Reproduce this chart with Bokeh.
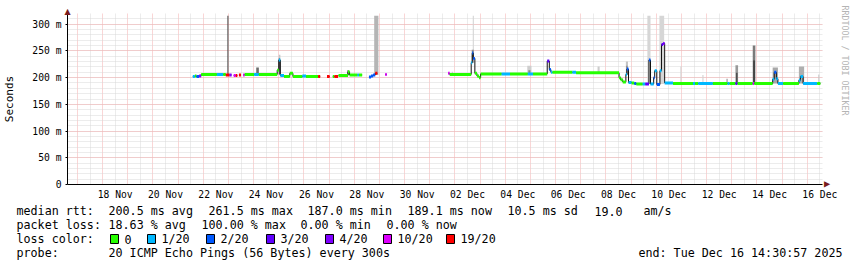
import numpy as np
import pandas as pd
from bokeh.plotting import figure
from bokeh.layouts import column
from bokeh.models import (Range1d, FixedTicker, DatetimeTickFormatter, Title,
                          ColumnDataSource)
from bokeh.core.properties import value
from bokeh.embed import file_html
from bokeh.resources import INLINE

# ---------------------------------------------------------------- data
graph_end = "2025-12-16 14:30:57"
graph_days = 30

# median rtt as runs: start of run, median (ms, None = no data), pings lost of 20
median_start = [
    "2025-11-21 14:00", "2025-11-21 16:00", "2025-11-21 17:30", "2025-11-21 20:00",
    "2025-11-21 22:00", "2025-11-22 13:00", "2025-11-22 19:00", "2025-11-22 21:30",
    "2025-11-23 01:00", "2025-11-23 03:00", "2025-11-23 05:00", "2025-11-23 07:00",
    "2025-11-23 08:30", "2025-11-23 10:00", "2025-11-23 12:00", "2025-11-23 14:00",
    "2025-11-23 15:30", "2025-11-24 00:30", "2025-11-24 05:00", "2025-11-24 22:30",
    "2025-11-25 00:00", "2025-11-25 01:30", "2025-11-25 05:00", "2025-11-25 10:30",
    "2025-11-25 13:30", "2025-11-25 22:30", "2025-11-26 02:00", "2025-11-26 13:30",
    "2025-11-26 15:30", "2025-11-26 22:00", "2025-11-27 00:30", "2025-11-27 03:30",
    "2025-11-27 05:00", "2025-11-27 08:30", "2025-11-27 09:00", "2025-11-27 18:00",
    "2025-11-27 19:30", "2025-11-28 03:00", "2025-11-28 04:30", "2025-11-28 07:30",
    "2025-11-28 14:00", "2025-11-28 16:00", "2025-11-28 18:00", "2025-11-28 20:00",
    "2025-11-28 22:00", "2025-11-29 05:30", "2025-11-29 07:00", "2025-12-01 17:30",
    "2025-12-01 19:00", "2025-12-02 15:30", "2025-12-02 16:30", "2025-12-02 17:30",
    "2025-12-02 19:00", "2025-12-02 21:00", "2025-12-02 23:00", "2025-12-03 00:30",
    "2025-12-03 20:30", "2025-12-04 04:30", "2025-12-04 21:30", "2025-12-05 02:30",
    "2025-12-05 16:00", "2025-12-05 18:00", "2025-12-05 19:30", "2025-12-05 21:00",
    "2025-12-06 16:00", "2025-12-06 19:30", "2025-12-08 12:30", "2025-12-08 14:00",
    "2025-12-08 16:00", "2025-12-08 19:00", "2025-12-08 20:00", "2025-12-08 21:30",
    "2025-12-09 00:30", "2025-12-09 03:00", "2025-12-09 05:00", "2025-12-09 11:00",
    "2025-12-09 13:30", "2025-12-09 17:00", "2025-12-09 18:30", "2025-12-09 21:30",
    "2025-12-09 22:30", "2025-12-10 00:30", "2025-12-10 03:30", "2025-12-10 05:00",
    "2025-12-10 06:30", "2025-12-10 08:00", "2025-12-10 16:00", "2025-12-11 11:00",
    "2025-12-11 13:00", "2025-12-11 16:00", "2025-12-12 06:00", "2025-12-12 20:00",
    "2025-12-12 22:00", "2025-12-13 03:30", "2025-12-13 05:30", "2025-12-13 20:00",
    "2025-12-13 21:30", "2025-12-14 15:00", "2025-12-14 16:30", "2025-12-14 18:30",
    "2025-12-14 20:00", "2025-12-15 01:00", "2025-12-15 16:00", "2025-12-15 17:30",
    "2025-12-15 20:00", "2025-12-16 09:30",
]
median_ms = [
    202, 203, 202, 203, 206, 206, 206, 205,
    205, None, 204, 204, None, 205, None, 205,
    206, 206, 206, 214, 233, 204, 202, 208,
    202, 203, 202, 202, None, 202, None, 202,
    202, None, 204, 211, 205, 205, 205, None,
    201, 203, 205, 208, None, 206, None, 208,
    206, 228, 246, 236, 208, 203, 200, 207,
    207, 207, 207, 207, 231, 215, 210, 210,
    210, 209, 200, 196, 192, 206, 216, 191,
    190, 189, 188, 188, 188, 233, 188, 200,
    213, 187, 213, 262, 264, 190, 189, 189,
    189, 189, 189, 189, 189, 189, 189, 189,
    189, 197, 210, 198, 189, 189, 195, 202,
    189, 189,
]
median_loss = [
    1, 0, 2, 4, 0, 1, 0, 19,
    4, 0, 10, 19, 0, 19, 0, 10,
    0, 1, 0, 0, 1, 1, 0, 0,
    0, 1, 0, 19, 0, 19, 0, 0,
    19, 0, 0, 0, 0, 1, 0, 0,
    2, 2, 2, 19, 0, 10, 0, 10,
    0, 1, 2, 2, 0, 0, 0, 0,
    1, 0, 1, 0, 3, 2, 1, 0,
    1, 0, 0, 0, 0, 1, 2, 1,
    0, 2, 0, 1, 3, 2, 1, 2,
    1, 2, 1, 3, 4, 1, 0, 1,
    0, 1, 0, 1, 0, 3, 0, 10,
    0, 1, 2, 1, 1, 0, 1, 1,
    1, 0,
]
median_end = "2025-12-16 12:30"

# smoke (spread of the 20 pings)
smoke_start = [
    "2025-11-22 23:00", "2025-11-24 02:30", "2025-11-25 00:00", "2025-11-25 00:00",
    "2025-11-27 17:30", "2025-11-28 19:00", "2025-12-01 21:00", "2025-12-02 17:00",
    "2025-12-02 16:00", "2025-12-04 21:00", "2025-12-04 22:00", "2025-12-07 16:00",
    "2025-12-08 19:00", "2025-12-08 19:30", "2025-12-09 15:30", "2025-12-10 03:00",
    "2025-12-10 23:00", "2025-12-11 20:00", "2025-12-12 19:00", "2025-12-13 03:30",
    "2025-12-13 04:00", "2025-12-13 20:00", "2025-12-13 20:30", "2025-12-14 15:00",
    "2025-12-15 16:00", "2025-12-16 10:30",
]
smoke_end = [
    "2025-11-23 00:00", "2025-11-24 05:00", "2025-11-25 01:30", "2025-11-25 01:00",
    "2025-11-27 18:30", "2025-11-28 23:00", "2025-12-01 22:00", "2025-12-02 18:00",
    "2025-12-02 18:00", "2025-12-05 01:00", "2025-12-05 00:00", "2025-12-07 18:00",
    "2025-12-08 21:00", "2025-12-08 20:30", "2025-12-09 18:30", "2025-12-10 07:30",
    "2025-12-11 00:00", "2025-12-11 21:00", "2025-12-12 20:00", "2025-12-13 06:00",
    "2025-12-13 05:30", "2025-12-13 22:30", "2025-12-13 22:00", "2025-12-14 20:00",
    "2025-12-15 21:00", "2025-12-16 11:30",
]
smoke_low = [205, 206, 206, 206, 205, 205, 206, 236, 228, 207, 207, 209, 205, 205,
             188, 188, 189, 189, 189, 189, 189, 189, 189, 189, 189, 189]
smoke_high = [316, 219, 243, 236, 214, 316, 211, 316, 252, 222, 214, 221, 230, 222,
              316, 316, 221, 205, 198, 223, 209, 260, 232, 219, 221, 206]
smoke_density = [0.72, 0.57, 0.23, 0.77, 0.75, 0.29, 0.22, 0.17, 0.45, 0.19, 0.46, 0.2,
                 0.23, 0.56, 0.16, 0.16, 0.18, 0.18, 0.45, 0.4, 0.69, 0.52, 0.77, 0.34,
                 0.31, 0.22]

loss_levels = [0, 1, 2, 3, 4, 10, 19]
loss_names = ["0", "1/20", "2/20", "3/20", "4/20", "10/20", "19/20"]
loss_colors = ["#26ff00", "#00b8ff", "#0059ff", "#5e00ff", "#7e00ff", "#dd00ff", "#ff0000"]

y_ticks = [0, 50, 100, 150, 200, 250, 300]
x_label_days = ["2025-11-18", "2025-11-20", "2025-11-22", "2025-11-24", "2025-11-26",
                "2025-11-28", "2025-11-30", "2025-12-02", "2025-12-04", "2025-12-06",
                "2025-12-08", "2025-12-10", "2025-12-12", "2025-12-14", "2025-12-16"]

rtt_title = "median rtt:"
rtt_stats = ["200.5 ms avg", "261.5 ms max", "187.0 ms min", "189.1 ms now",
             "10.5 ms sd", "19.0", "am/s"]
loss_title = "packet loss:"
loss_stats = ["18.63 % avg", "100.00 % max", "0.00 % min", "0.00 % now"]
color_title = "loss color:"
probe_title = "probe:"
probe_text = "20 ICMP Echo Pings (56 Bytes) every 300s"
end_text = "end: Tue Dec 16 14:30:57 2025"
watermark = "RRDTOOL / TOBI OETIKER"

# ---------------------------------------------------------------- layout
W, H = 857, 267
FL, FR, FT, FB = 66, 827, 13, 185     # plot frame (px)
H1 = 202                              # height of the graph part
Y_TOP = 320
MONO = "DejaVu Sans Mono"
TXT = "11.7px"
ARROW = "#7a1c1c"


def ms(ts):
    return pd.Timestamp(ts).value / 1e6


t1 = ms(graph_end)
t0 = t1 - graph_days * 86400000.0


def loss_color(n):
    c = loss_colors[0]
    for lv, col in zip(loss_levels, loss_colors):
        if n >= lv:
            c = col
    return c


p = figure(width=W, height=H1, x_axis_type="datetime", output_backend="svg",
           toolbar_location=None, x_range=Range1d(t0, t1), y_range=Range1d(0, Y_TOP),
           min_border_left=FL, min_border_right=W - FR, min_border_top=FT,
           min_border_bottom=H1 - FB)
p.frame_align = False
p.background_fill_color = "white"
p.border_fill_color = "white"
p.outline_line_color = None

# grids
midnights = [ms(d) for d in pd.date_range("2025-11-17", "2025-12-16", freq="D")]
noons = [m + 43200000.0 for m in midnights]
p.xgrid.ticker = FixedTicker(ticks=midnights, minor_ticks=noons)
p.ygrid.ticker = FixedTicker(ticks=y_ticks, minor_ticks=list(range(0, Y_TOP + 1, 10)))
for g in (p.xgrid[0], p.ygrid[0]):
    g.grid_line_color = "#f4acac"
    g.grid_line_dash = "1 1"
    g.grid_line_width = 1
    g.minor_grid_line_color = "#d8d8d8"
    g.minor_grid_line_dash = "1 1"
    g.minor_grid_line_width = 1

# axes
xa = p.xaxis[0]
xa.ticker = FixedTicker(ticks=[ms(d) + 43200000.0 for d in x_label_days])
fmt = "%d %b"
xa.formatter = DatetimeTickFormatter(microseconds=fmt, milliseconds=fmt, seconds=fmt,
                                     minsec=fmt, minutes=fmt, hourmin=fmt, hours=fmt,
                                     days=fmt, months=fmt, years=fmt)
xa.major_tick_line_color = None
xa.minor_tick_line_color = None
xa.major_tick_out = 0
xa.major_label_standoff = 4

ya = p.yaxis[0]
ya.ticker = FixedTicker(ticks=y_ticks)
ya.major_label_overrides = {v: (f"{v} m" if v else "0") for v in y_ticks}
ya.minor_tick_line_color = None
ya.major_tick_line_color = "black"
ya.major_tick_out = 2
ya.major_tick_in = 0
ya.major_label_standoff = 4
ya.axis_label = "Seconds"
ya.axis_label_text_font = MONO
ya.axis_label_text_font_size = "11px"
ya.axis_label_text_font_style = "normal"
ya.axis_label_text_color = "black"
ya.axis_label_standoff = 13

for a in (xa, ya):
    a.axis_line_color = "black"
    a.major_label_text_font = MONO
    a.major_label_text_font_size = "9.7px"
    a.major_label_text_color = "black"

# smoke
sm = ColumnDataSource(dict(
    left=[ms(t) for t in smoke_start], right=[ms(t) for t in smoke_end],
    bottom=smoke_low, top=smoke_high,
    color=["#%02x%02x%02x" % ((int(255 * (1 - d)),) * 3) for d in smoke_density]))
p.quad(left="left", right="right", bottom="bottom", top="top", fill_color="color",
       line_color=None, source=sm)

# median: thin dark step line
starts = [ms(t) for t in median_start]
ends = starts[1:] + [ms(median_end)]
xs, ys = [], []
for a, b, v in zip(starts, ends, median_ms):
    if v is None:
        xs.append(a)
        ys.append(np.nan)
    else:
        xs += [a, b]
        ys += [v, v]
p.line(xs, ys, line_color="#101010", line_width=1)

# median: loss coloured
seg = dict(x0=[], x1=[], y=[], color=[])
for a, b, v, n in zip(starts, ends, median_ms, median_loss):
    if v is None:
        continue
    seg["x0"].append(a)
    seg["x1"].append(b)
    seg["y"].append(v)
    seg["color"].append(loss_color(n))
p.segment(x0="x0", x1="x1", y0="y", y1="y", line_color="color", line_width=3,
          source=ColumnDataSource(seg))

# axis arrow heads and watermark (side panels, so they are not clipped)
p.add_layout(Title(text="\u25b2", align="left", offset=-3, standoff=-4,
                   text_font="DejaVu Sans", text_font_size="8px",
                   text_font_style="normal", text_color=ARROW), "above")
p.add_layout(Title(text="\u25b2", align="right", offset=-3, standoff=0,
                   text_font="DejaVu Sans", text_font_size="8px",
                   text_font_style="normal", text_color=ARROW), "right")
p.add_layout(Title(text=watermark, align="left", offset=-8, standoff=12,
                   text_font=MONO, text_font_size="8.3px",
                   text_font_style="normal", text_color="#b4b4b4"), "right")

# ---------------------------------------------------------------- legend part
q = figure(width=W, height=H - H1, output_backend="svg", toolbar_location=None,
           x_range=Range1d(0, W), y_range=Range1d(H, H1),
           min_border_left=0, min_border_right=0, min_border_top=0,
           min_border_bottom=0, x_axis_location=None, y_axis_location=None)
q.frame_align = False
q.grid.visible = False
q.outline_line_color = None
q.background_fill_color = "white"
q.border_fill_color = "white"

L1, L2, L3, L4 = 210.5, 224.5, 238.5, 252.5
rows = dict(x=[], y=[], text=[])


def put(txt, px, py):
    rows["x"].append(px)
    rows["y"].append(py)
    rows["text"].append(txt)


put(rtt_title, 16, L1)
for s, px in zip(rtt_stats, [108, 208, 307, 407, 507, 594, 643]):
    put(s, px, L1)
put(loss_title, 16, L2)
for s, px in zip(loss_stats, [108, 201, 300, 386]):
    put(s, px, L2)
put(color_title, 16, L3)
label_x = [124, 161, 220, 280, 339, 397, 460]
for name, px in zip(loss_names, label_x):
    put(name, px, L3)
put(probe_title, 16, L4)
put(probe_text, 108, L4)

q.text(x="x", y="y", text="text", source=ColumnDataSource(rows),
       text_font=value(MONO), text_font_size=value(TXT), text_color="black",
       text_baseline="middle", text_align="left")
q.text(x=[842], y=[L4], text=[end_text], text_font=value(MONO),
       text_font_size=value(TXT), text_color="black", text_baseline="middle",
       text_align="right")
q.quad(left=[x - 14 for x in label_x], right=[x - 6 for x in label_x],
       top=[L3 - 4.5] * len(label_x), bottom=[L3 + 4.5] * len(label_x),
       fill_color=loss_colors, line_color="black", line_width=1)

open("out.html", "w").write(file_html(column(p, q, spacing=0), INLINE))
